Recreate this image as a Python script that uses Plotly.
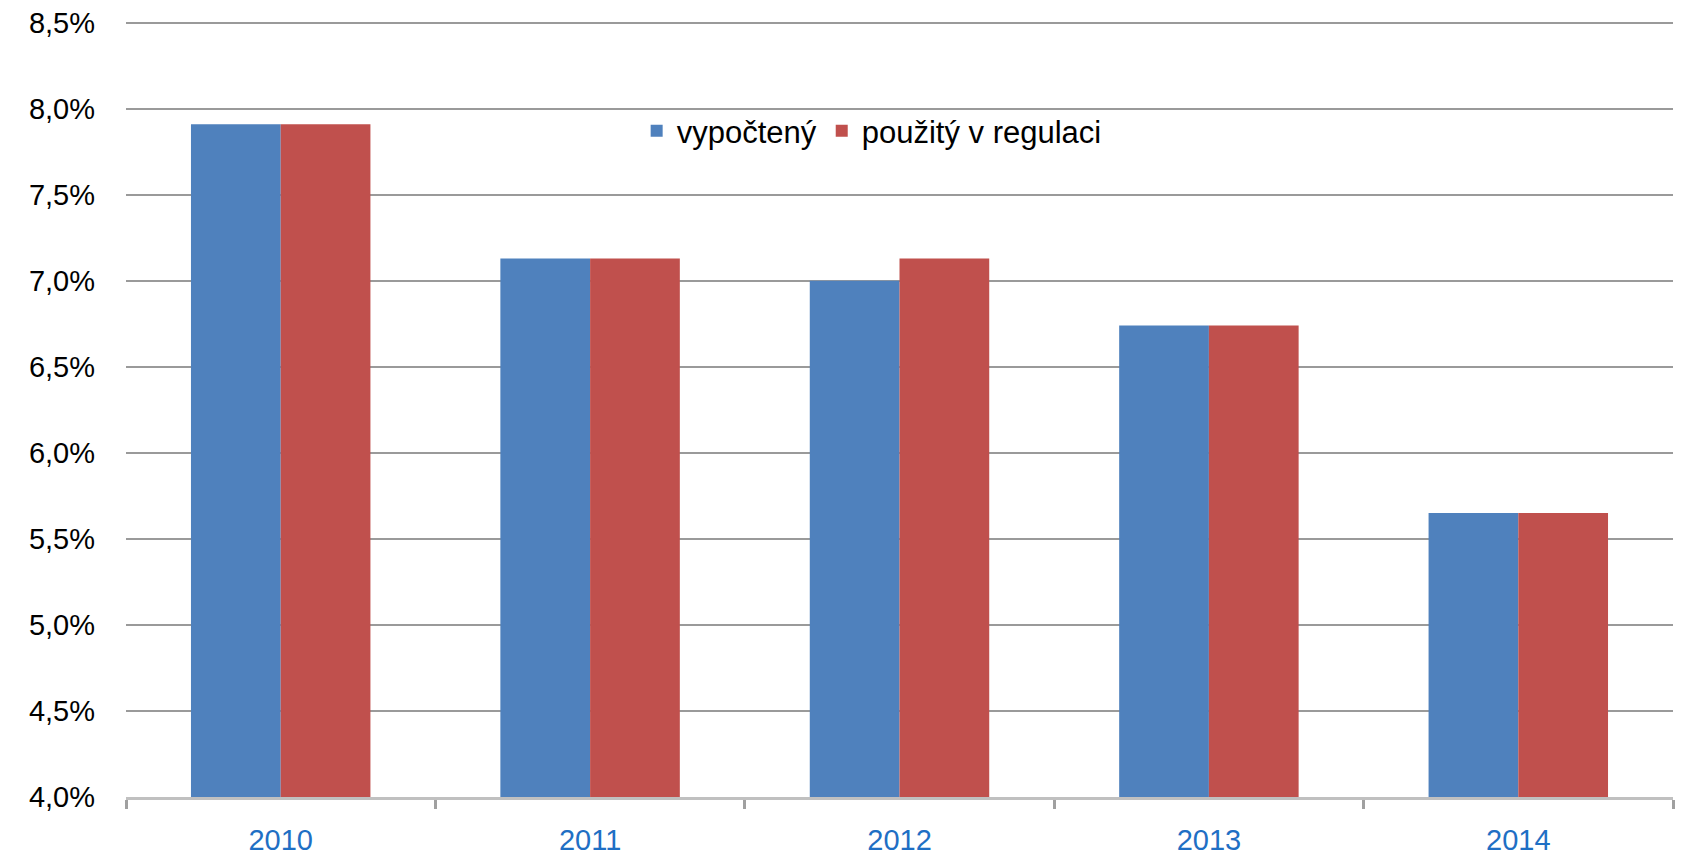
import plotly.graph_objects as go

years = ["2010", "2011", "2012", "2013", "2014"]
vypocteny = [7.91, 7.13, 7.00, 6.74, 5.65]
pouzity = [7.91, 7.13, 7.13, 6.74, 5.65]
series_names = ["vypočtený", "použitý v regulaci"]
y_ticks = [4.0, 4.5, 5.0, 5.5, 6.0, 6.5, 7.0, 7.5, 8.0, 8.5]
y_ticktext = [f"{v:.1f}%".replace(".", ",") for v in y_ticks]

fig = go.Figure()
fig.add_trace(go.Bar(x=years, y=vypocteny, name=series_names[0],
                     marker=dict(color="#4F81BD", line=dict(width=0))))
fig.add_trace(go.Bar(x=years, y=pouzity, name=series_names[1],
                     marker=dict(color="#C0504D", line=dict(width=0))))

font_family = "Liberation Sans, Arial, sans-serif"
fig.update_layout(
    width=1682, height=856,
    margin=dict(l=126, r=9, t=21, b=59),
    paper_bgcolor="white", plot_bgcolor="white",
    barmode="group", bargap=0.42, bargroupgap=0,
    font=dict(family=font_family, size=29, color="black"),
    legend=dict(orientation="h", x=0.482, y=0.858, xanchor="center", yanchor="middle",
                font=dict(size=31, color="black"), bgcolor="rgba(0,0,0,0)",
                itemwidth=30, tracegroupgap=0),
    showlegend=True,
)
fig.update_yaxes(range=[4.0, 8.51], tickvals=y_ticks, ticktext=y_ticktext,
                 showgrid=True, gridcolor="#9a9a9a", gridwidth=2,
                 showline=False, zeroline=False, ticks="", automargin=False,
                 ticklabelstandoff=30,
                 tickfont=dict(size=29, color="black", family=font_family))
fig.update_xaxes(showline=True, linecolor="#c0c0c0", linewidth=3, automargin=False,
                 ticks="outside", tickson="boundaries", ticklen=9, tickwidth=3,
                 tickcolor="#a0a0a0", ticklabelstandoff=15,
                 tickfont=dict(size=29, color="#1f6fc4", family=font_family))

fig.write_html("out.html", config={"displayModeBar": False},
               post_script="document.body.style.margin='0';document.body.style.overflow='hidden';")
